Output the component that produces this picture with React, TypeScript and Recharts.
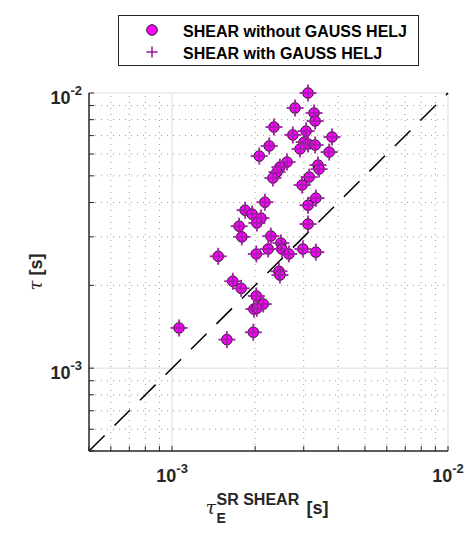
import {
  ScatterChart,
  Scatter,
  XAxis,
  YAxis,
  ReferenceLine,
} from 'recharts';

// tau_E^{SR SHEAR} [s] (x) and tau [s] (y)
const tauE = [
  0.00311, 0.00279, 0.00327, 0.0033, 0.00234, 0.00306, 0.00274, 0.0038, 0.00301, 0.00311,
  0.0033, 0.00291, 0.00225, 0.00207, 0.00371, 0.00261, 0.00246, 0.0024, 0.00232, 0.00338,
  0.00341, 0.00314, 0.00296, 0.00332, 0.00311, 0.00217, 0.00184, 0.00195, 0.0021, 0.00203,
  0.00175, 0.00311, 0.00179, 0.00228, 0.00248, 0.00223, 0.0025, 0.00265, 0.00298, 0.00332,
  0.00202, 0.00147, 0.00244, 0.00246, 0.00166, 0.00178, 0.00202, 0.00214, 0.00198, 0.00106,
  0.00158, 0.00197, 0.00203,
];
const tau = [
  0.01, 0.00882, 0.00846, 0.00791, 0.00752, 0.00727, 0.00704, 0.00692, 0.00663, 0.00652,
  0.00647, 0.00626, 0.00642, 0.0059, 0.0061, 0.00561, 0.00538, 0.00516, 0.00491, 0.00547,
  0.00529, 0.00495, 0.00463, 0.00415, 0.00391, 0.00401, 0.00375, 0.00363, 0.00351, 0.00337,
  0.00328, 0.00334, 0.003, 0.00302, 0.00285, 0.00271, 0.00271, 0.0026, 0.00271, 0.00264,
  0.0026, 0.00255, 0.00225, 0.00218, 0.00207, 0.00195, 0.00183, 0.00171, 0.00164, 0.0014,
  0.00127, 0.00135, 0.00165,
];

const axisTicks = [
  0.0005, 0.0006, 0.0007, 0.0008, 0.0009, 0.001, 0.002, 0.003, 0.004, 0.005, 0.006, 0.007,
  0.008, 0.009, 0.01,
];
const minorGrid = [
  0.0006, 0.0007, 0.0008, 0.0009, 0.002, 0.003, 0.004, 0.005, 0.006, 0.007, 0.008, 0.009,
];
const majorGrid = [0.001, 0.01];
const tickLabels: Record<string, string> = { '0.001': '-3', '0.01': '-2' };
const domain = [0.0005, 0.01];

const pointsData = tauE.map((x, i) => ({ x, y: tau[i] }));

const FONT = '"Liberation Sans", Arial, sans-serif';
const AXIS = '#262626';
const MAGENTA = '#ff00ff';
const PURPLE = '#a01fa5';

function CircleMark({ cx, cy }: any) {
  return <circle cx={cx} cy={cy} r={5.3} fill={MAGENTA} stroke="#1a1a1a" strokeWidth={1} />;
}

function PlusMark({ cx, cy }: any) {
  return (
    <g stroke={PURPLE} strokeWidth={1.8}>
      <line x1={cx - 8.5} y1={cy} x2={cx + 8.5} y2={cy} />
      <line x1={cx} y1={cy - 8.5} x2={cx} y2={cy + 8.5} />
    </g>
  );
}

function XTick({ x, y, payload }: any) {
  const exp = tickLabels[String(payload.value)];
  return (
    <g>
      <line x1={x} y1={y} x2={x} y2={y - 5} stroke={AXIS} strokeWidth={1} />
      {exp && (
        <text x={x} y={y + 31} textAnchor="middle" fontFamily={FONT} fontWeight="bold" fontSize={18} fill={AXIS}>
          10
          <tspan dy={-9} fontSize={13}>{exp}</tspan>
        </text>
      )}
    </g>
  );
}

function YTick({ x, y, payload }: any) {
  const exp = tickLabels[String(payload.value)];
  return (
    <g>
      <line x1={x} y1={y} x2={x + 5} y2={y} stroke={AXIS} strokeWidth={1} />
      {exp && (
        <text x={x - 7} y={y + 11} textAnchor="end" fontFamily={FONT} fontWeight="bold" fontSize={18} fill={AXIS}>
          10
          <tspan dy={-9} fontSize={13}>{exp}</tspan>
        </text>
      )}
    </g>
  );
}

function XLabel({ viewBox }: any) {
  const cx = viewBox.x + viewBox.width / 2;
  const top = viewBox.y;
  return (
    <g fontFamily={FONT} fontWeight="bold" fill={AXIS}>
      <text x={cx - 63} y={top + 63} fontSize={19} fontStyle="italic" fontWeight="normal" fontFamily="'DejaVu Serif', serif">
        τ
      </text>
      <text x={cx - 52} y={top + 54} fontSize={16}>SR SHEAR</text>
      <text x={cx - 52} y={top + 72} fontSize={14}>E</text>
      <text x={cx + 38} y={top + 63} fontSize={18}>[s]</text>
    </g>
  );
}

function YLabel({ viewBox }: any) {
  const cy = viewBox.y + viewBox.height / 2;
  const x = 42;
  return (
    <text
      x={x}
      y={cy}
      transform={`rotate(-90, ${x}, ${cy})`}
      textAnchor="middle"
      fontFamily={FONT}
      fontWeight="bold"
      fontSize={18}
      fill={AXIS}
    >
      <tspan fontStyle="italic" fontWeight="normal" fontFamily="'DejaVu Serif', serif">τ</tspan>
      <tspan> [s]</tspan>
    </text>
  );
}

function LegendBox() {
  return (
    <svg width={476} height={80} style={{ position: 'absolute', left: 0, top: 0 }}>
      <rect x={118.5} y={15.5} width={300} height={50} fill="#fff" stroke={AXIS} strokeWidth={1} />
      <circle cx={152} cy={30} r={5.3} fill={MAGENTA} stroke="#1a1a1a" strokeWidth={1} />
      <g stroke={PURPLE} strokeWidth={1.6}>
        <line x1={146.5} y1={52} x2={157.5} y2={52} />
        <line x1={152} y1={46.5} x2={152} y2={57.5} />
      </g>
      <g fontFamily={FONT} fontWeight="bold" fontSize={16} fill="#000">
        <text x={183} y={37}>SHEAR without GAUSS HELJ</text>
        <text x={183} y={59}>SHEAR with GAUSS HELJ</text>
      </g>
    </svg>
  );
}

export default function App() {
  return (
    <div style={{ position: 'absolute', left: 0, top: 0, width: 476, height: 550, background: '#fff' }}>
      <ScatterChart width={476} height={550} margin={{ top: 93, right: 28, bottom: 0, left: 0 }}>
        <XAxis
          type="number"
          dataKey="x"
          scale="log"
          domain={domain}
          ticks={axisTicks}
          interval={0}
          tick={<XTick />}
          tickLine={false}
          tickSize={0}
          tickMargin={0}
          height={99}
          axisLine={{ stroke: AXIS, strokeWidth: 1.5 }}
          label={{ content: <XLabel /> }}
        />
        <YAxis
          type="number"
          dataKey="y"
          scale="log"
          domain={domain}
          ticks={axisTicks}
          interval={0}
          tick={<YTick />}
          tickLine={false}
          tickSize={0}
          tickMargin={0}
          width={89}
          axisLine={{ stroke: AXIS, strokeWidth: 1.5 }}
          label={{ content: <YLabel /> }}
        />
        {minorGrid.map((v) => (
          <ReferenceLine key={`vx${v}`} x={v} stroke="#9a9a9a" strokeWidth={1} strokeDasharray="1 5" />
        ))}
        {minorGrid.map((v) => (
          <ReferenceLine key={`hy${v}`} y={v} stroke="#9a9a9a" strokeWidth={1} strokeDasharray="1 5" />
        ))}
        {majorGrid.map((v) => (
          <ReferenceLine key={`VX${v}`} x={v} stroke="#dcdcdc" strokeWidth={1} />
        ))}
        {majorGrid.map((v) => (
          <ReferenceLine key={`HY${v}`} y={v} stroke="#dcdcdc" strokeWidth={1} />
        ))}
        <Scatter name="SHEAR without GAUSS HELJ" data={pointsData} shape={<CircleMark />} isAnimationActive={false} />
        <Scatter name="SHEAR with GAUSS HELJ" data={pointsData} shape={<PlusMark />} isAnimationActive={false} />
        <ReferenceLine
          segment={[
            { x: domain[0], y: domain[0] },
            { x: domain[1], y: domain[1] },
          ]}
          stroke="#000"
          strokeWidth={1.5}
          strokeDasharray="22 14"
        />
      </ScatterChart>
      <LegendBox />
    </div>
  );
}
